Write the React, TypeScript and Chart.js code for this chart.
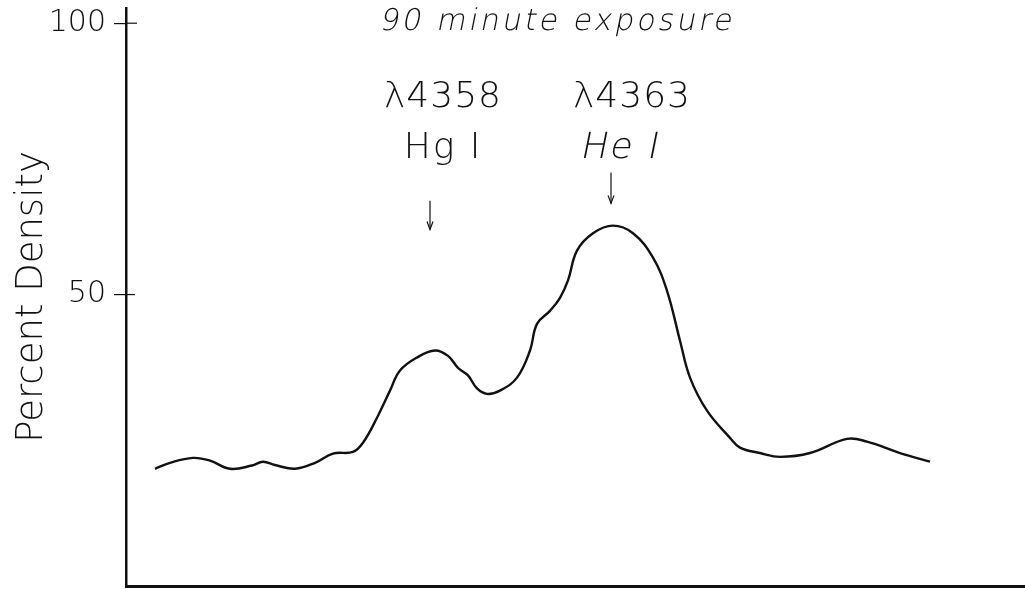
import React, { useEffect, useRef } from "react";
import { Chart, registerables } from "chart.js";

Chart.register(...registerables);

// Trace position along the plate (arbitrary units) and percent density
const positions = [
  2.9, 4.4, 6.7, 8.4, 10.4, 12.6, 13.7, 14.9, 16.9, 18.9, 20.7, 22.7, 23.7, 25.1,
  26.4, 27.4, 29.1, 30.9, 32.2, 33.2, 34.2, 35.1, 36.1, 37.4, 39.1, 40.4, 41.1,
  42.4, 43.4, 44.2, 45.1, 46.7, 48.7, 50.7, 52.7, 54.1, 55.4, 56.4, 58.1, 60.4,
  61.4, 63.4, 65.4, 68.4, 72.1, 74.1, 77.4, 80.4,
];
const density = [
  17.9, 19.0, 19.9, 19.4, 17.9, 18.5, 19.2, 18.6, 17.9, 19.0, 20.7, 21.0, 22.7, 27.3,
  32.3, 36.0, 38.4, 39.7, 38.7, 36.5, 35.1, 32.7, 31.7, 32.3, 34.7, 39.7, 44.6,
  47.0, 49.4, 52.6, 58.1, 61.3, 62.7, 61.3, 56.8, 50.7, 41.5, 34.7, 28.6, 23.6,
  21.8, 20.8, 20.1, 20.8, 23.4, 22.9, 20.8, 19.2,
];
const yTickValues = [50, 100];
const chartTitle = "90 minute exposure";
const yAxisTitle = "Percent Density";

// Spectral line annotations: label lines, arrow x position, arrow top/bottom values
const lineLabels = [
  ["λ4358", "Hg I"],
  ["λ4363", "He I"],
];
const lineItalic = [false, true];
const lineArrowX = [30.4, 48.5];
const lineArrowTop = [67.3, 72.5];
const lineArrowBottom = [62.0, 66.8];
const lineLabelX = [31.7, 50.6];
const lineSubLabelX = [31.7, 49.5];
const lineLabelTop = [86.3, 86.3];

const FONT = "'DejaVu Sans', sans-serif";

function drawSkewed(ctx: any, text: string, x: number, y: number, font: string, skew: number, spacing: string) {
  ctx.save();
  ctx.translate(x, y);
  ctx.transform(1, 0, -skew, 1, 0, 0);
  ctx.font = font;
  ctx.letterSpacing = spacing;
  ctx.textAlign = "center";
  ctx.textBaseline = "middle";
  ctx.fillText(text, 0, 0);
  ctx.restore();
}

const annotationPlugin = {
  id: "spectralAnnotations",
  afterDraw(chart: any) {
    const { ctx, scales, chartArea } = chart;
    const xs = scales.x;
    const ys = scales.y;
    ctx.save();
    ctx.fillStyle = "#111";
    ctx.strokeStyle = "#111";
    // title
    drawSkewed(ctx, chartTitle, 558, 22, `200 30px ${FONT}`, 0.2, "3px");
    // line labels + arrows
    for (let i = 0; i < lineLabels.length; i++) {
      const cx = xs.getPixelForValue(lineLabelX[i]);
      const sx = xs.getPixelForValue(lineSubLabelX[i]);
      const top = ys.getPixelForValue(lineLabelTop[i]);
      const sk = lineItalic[i] ? 0.2 : 0;
      drawSkewed(ctx, lineLabels[i][0], cx, top, `200 36px ${FONT}`, 0, "1px");
      drawSkewed(ctx, lineLabels[i][1], sx, top + 51, `200 36px ${FONT}`, sk, "2px");
      const ax = xs.getPixelForValue(lineArrowX[i]);
      const ay0 = ys.getPixelForValue(lineArrowTop[i]);
      const ay1 = ys.getPixelForValue(lineArrowBottom[i]);
      ctx.lineWidth = 1.2;
      ctx.beginPath();
      ctx.moveTo(ax, ay0);
      ctx.lineTo(ax, ay1);
      ctx.stroke();
      ctx.beginPath();
      ctx.moveTo(ax - 3, ay1 - 8);
      ctx.lineTo(ax, ay1);
      ctx.lineTo(ax + 3, ay1 - 8);
      ctx.stroke();
    }
    // tick crossings to the right of the axis
    ctx.lineWidth = 1.2;
    for (const v of yTickValues) {
      const yy = ys.getPixelForValue(v);
      ctx.beginPath();
      ctx.moveTo(chartArea.left, yy);
      ctx.lineTo(chartArea.left + (v === 100 ? 11 : 9), yy);
      ctx.stroke();
    }
    ctx.restore();
  },
};

export default function App() {
  const canvasRef = useRef<HTMLCanvasElement | null>(null);

  useEffect(() => {
    if (!canvasRef.current) return;
    const chart = new Chart(canvasRef.current, {
      type: "line",
      data: {
        datasets: [
          {
            data: positions.map((p, i) => ({ x: p, y: density[i] })),
            borderColor: "#111",
            borderWidth: 2.4,
            pointRadius: 0,
            tension: 0.4,
            fill: false,
          },
        ],
      },
      options: {
        animation: false,
        responsive: false,
        events: [],
        layout: { padding: { top: 8, right: 0, left: 0, bottom: 0 } },
        plugins: {
          legend: { display: false },
          title: { display: false },
          tooltip: { enabled: false },
        },
        scales: {
          x: {
            type: "linear",
            min: 0,
            max: 89.9,
            ticks: { display: false },
            grid: { display: false },
            border: { display: true, color: "#111", width: 3 },
            afterFit: (s: any) => {
              s.height = 3;
              s.paddingLeft = 0;
              s.paddingRight = 0;
            },
          },
          y: {
            type: "linear",
            min: -3.7,
            max: 102.8,
            afterBuildTicks: (s: any) => {
              s.ticks = yTickValues.map((v) => ({ value: v }));
            },
            ticks: {
              color: "#111",
              padding: 8,
              font: { family: FONT, size: 30, weight: 200 as any },
              callback: (v: any) => String(v),
            },
            grid: {
              drawOnChartArea: false,
              drawTicks: true,
              tickLength: 12,
              color: "#111",
              lineWidth: 1.2,
            },
            border: { display: true, color: "#111", width: 2.5 },
            title: {
              display: true,
              text: yAxisTitle,
              color: "#111",
              font: { family: FONT, size: 37, weight: 200 as any },
              padding: { top: 10, bottom: 0 },
            },
            afterFit: (s: any) => {
              s.width = 126;
              s.paddingTop = 0;
              s.paddingBottom = 0;
            },
          },
        },
      },
      plugins: [annotationPlugin],
    });
    return () => chart.destroy();
  }, []);

  return (
    <div
      style={{
        position: "fixed",
        left: 0,
        top: 0,
        width: 1025,
        height: 589,
        background: "#fff",
      }}
    >
      <canvas ref={canvasRef} width={1025} height={589} />
    </div>
  );
}
